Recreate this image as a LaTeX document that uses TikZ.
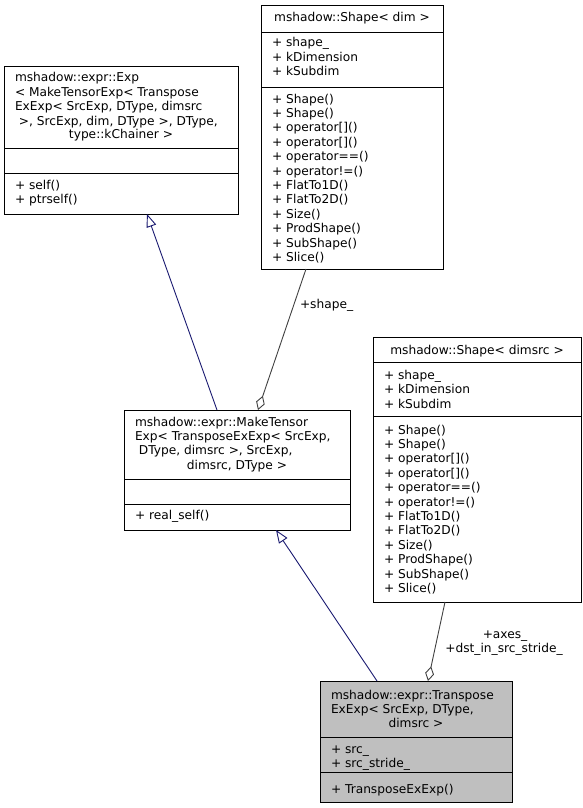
\documentclass[tikz,border=0pt]{standalone}
\usepackage{fontspec}
\setmainfont{DejaVu Sans}
\usetikzlibrary{arrows.meta}
\definecolor{inhcol}{HTML}{191970}
\definecolor{aggcol}{HTML}{404040}
\definecolor{curfill}{HTML}{BFBFBF}
\newcommand\umllines[4]{%
  \foreach \t [count=\i] in {#4} {\node[txt, anchor=base west] (#3\i) at (#1, {#2+(\i-1)*14.4}) {\t};}}
\begin{document}
\begin{tikzpicture}[x=1pt,y=-1pt,
  txt/.style={inner sep=0pt, outer sep=0pt, font=\fontsize{12.2}{14.4}\selectfont},
  umlbox/.style={draw=black, line width=0.9pt, fill=white, inner sep=0pt, outer sep=0pt, anchor=north west},
  divline/.style={draw=black, line width=0.9pt},
  inh/.style={draw=inhcol, line width=0.9pt, -{Triangle[open, length=13pt, width=10pt, fill=white]}},
  agg/.style={draw=aggcol, line width=0.9pt, -{Diamond[open, length=15pt, width=9pt, fill=white]}},
  lbl/.style={inner sep=0pt, outer sep=0pt, font=\fontsize{12.2}{14.4}\selectfont}]
\useasboundingbox (0,0) rectangle (583,808);

% Box A
\node[umlbox, minimum width=234pt, minimum height=148pt] (A) at (4,66) {};
\draw[divline] (4,148) -- (238,148);
\draw[divline] (4,173) -- (238,173);
\umllines{15}{81.8}{At}{mshadow::expr::Exp, {< MakeTensorExp< Transpose}, {ExExp< SrcExp, DType, dimsrc}, {\ >, SrcExp, dim, DType >, DType,}}
\node[txt, anchor=base] (At5) at (121,138.5) {type::kChainer >};
\umllines{15}{189.5}{Am}{+ self(), + ptrself()}

% Box B
\node[umlbox, minimum width=182pt, minimum height=264pt] (B) at (261,5) {};
\draw[divline] (261,32) -- (443,32);
\draw[divline] (261,87) -- (443,87);
\node[txt, anchor=base] (Bt) at (352,22) {mshadow::Shape< dim >};
\umllines{272}{47}{Ba}{+ shape\_, + kDimension, + kSubdim}
\umllines{272}{103}{Bm}{+ Shape(), + Shape(), + operator[](), + operator[](), + operator==(), + operator!=(), + FlatTo1D(), + FlatTo2D(), + Size(), + ProdShape(), + SubShape(), + Slice()}

% Box C
\node[umlbox, minimum width=226pt, minimum height=120pt] (C) at (124,410) {};
\draw[divline] (124,479) -- (350,479);
\draw[divline] (124,504) -- (350,504);
\umllines{135}{426}{Ct}{mshadow::expr::MakeTensor, {Exp< TransposeExExp< SrcExp,}, {\ DType, dimsrc >, SrcExp,}}
\node[txt, anchor=base] (Ct4) at (237,469.5) {dimsrc, DType >};
\umllines{135}{519.5}{Cm}{+ real\_self()}

% Box D
\node[umlbox, minimum width=208pt, minimum height=265pt] (D) at (373,337) {};
\draw[divline] (373,362) -- (581,362);
\draw[divline] (373,416) -- (581,416);
\node[txt, anchor=base] (Dt) at (477,354.5) {mshadow::Shape< dimsrc >};
\umllines{384}{379.5}{Da}{+ shape\_, + kDimension, + kSubdim}
\umllines{384}{434}{Dm}{+ Shape(), + Shape(), + operator[](), + operator[](), + operator==(), + operator!=(), + FlatTo1D(), + FlatTo2D(), + Size(), + ProdShape(), + SubShape(), + Slice()}

% Box E
\node[umlbox, fill=curfill, minimum width=192pt, minimum height=121pt] (E) at (320,681) {};
\draw[divline] (320,737) -- (512,737);
\draw[divline] (320,772) -- (512,772);
\umllines{331}{699}{Et}{mshadow::expr::Transpose, {ExExp< SrcExp, DType,}}
\node[txt, anchor=base] (Et3) at (416,727) {dimsrc >};
\umllines{331}{753.5}{Ea}{+ src\_, + src\_stride\_}
\umllines{331}{793.5}{Em}{+ TransposeExExp()}

% Connectors
\draw[inh] ([xshift=93pt]C.north west) -- ([xshift=143pt]A.south west);
\draw[inh] ([xshift=57pt]E.north west) -- ([xshift=152pt]C.south west);
\draw[agg] ([xshift=45pt]B.south west) -- ([xshift=134pt]C.north west);
\draw[agg] ([xshift=72pt]D.south west) -- ([xshift=108pt]E.north west);

% Labels
\node[lbl, anchor=base west] (Lshape) at (300,308) {+shape\_};
\node[lbl, anchor=base] (Laxes) at (505,638) {+axes\_};
\node[lbl, anchor=base] (Ldst) at (504,652.5) {+dst\_in\_src\_stride\_};
\end{tikzpicture}
\end{document}
